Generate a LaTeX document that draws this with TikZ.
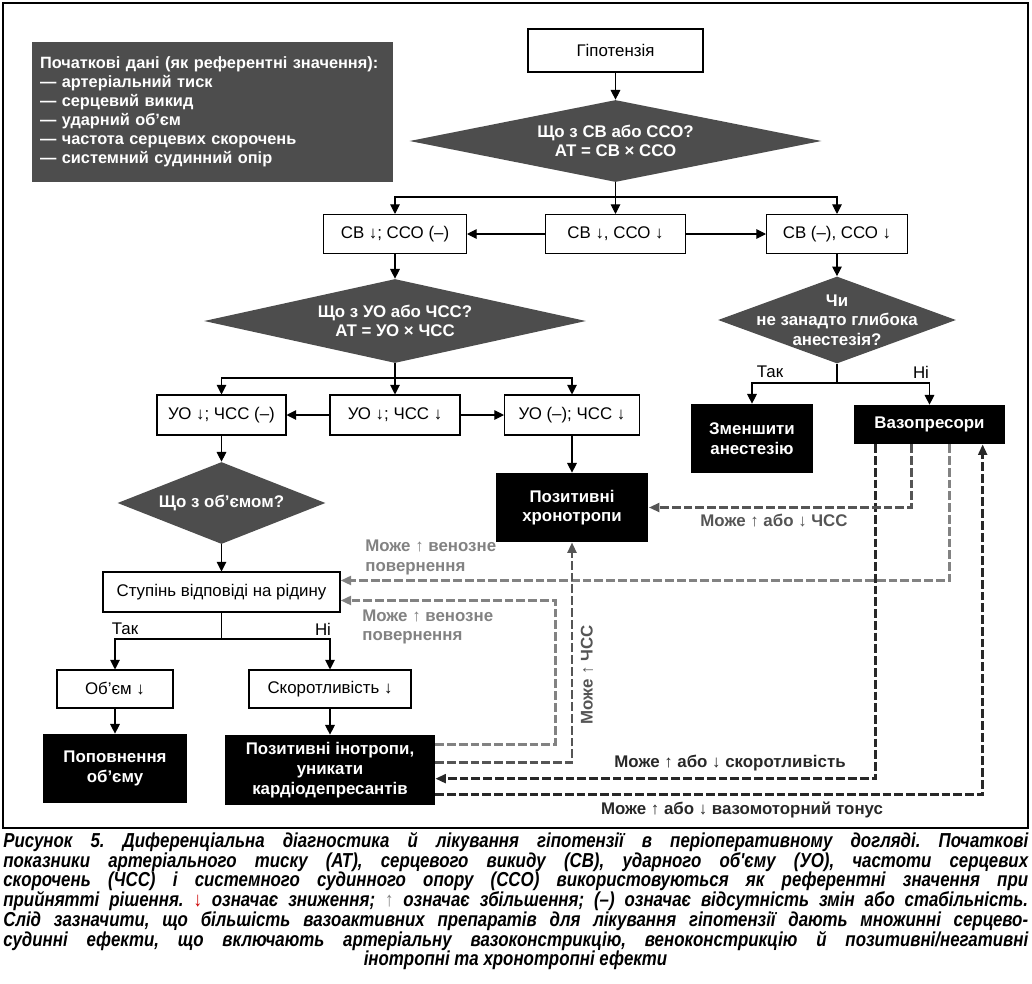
\documentclass[tikz,border=0pt]{standalone}
\usepackage{fontspec}
\setmainfont{Liberation Sans}
\newfontfamily\capfont[FakeStretch=0.835]{Liberation Sans}
\usetikzlibrary{shapes.geometric, arrows.meta, calc}
\definecolor{darkfill}{RGB}{77,77,77}
\definecolor{linedark}{RGB}{40,40,40}
\definecolor{linemid}{RGB}{85,85,85}
\definecolor{linelight}{RGB}{130,130,130}
\newcommand{\capline}[1]{\makebox[20.5cm][s]{#1}}
\tikzset{flowbox/.style={draw, line width=0.6pt, fill=white, inner sep=0pt, align=center, font=\fontsize{9.6}{11}\selectfont},
  actionbox/.style={fill=black, text=white, inner sep=0pt, align=center, font=\fontsize{9.6}{11.2}\selectfont\bfseries},
  decisionnode/.style={diamond, fill=darkfill, inner sep=0pt, aspect=1},
  decisiontext/.style={text=white, align=center, font=\fontsize{9.6}{11}\selectfont\bfseries},
  infobox/.style={fill=darkfill, text=white, align=left, text width=6.9cm, minimum height=2.8cm, inner xsep=0.16cm, inner ysep=0pt, font=\fontsize{9.3}{10.8}\selectfont\bfseries},
  flowarrow/.style={line width=0.6pt, -{Triangle[length=5.5pt,width=5.5pt]}},
  flowline/.style={line width=0.6pt},
  effectline/.style={line width=1.6pt, dash pattern=on 5pt off 1.7pt, -{Triangle[length=6pt,width=5pt]}},
  effectlabel/.style={font=\fontsize{9.6}{11}\selectfont\bfseries, inner sep=0pt, align=left},
  branchlabel/.style={font=\fontsize{9.6}{11}\selectfont, inner sep=0pt},
  captionline/.style={anchor=west, inner sep=0pt, text height=7.5pt, text depth=2pt, font=\capfont\bfseries\itshape\fontsize{11.5}{13}\selectfont\frenchspacing}}

\begin{document}
\begin{tikzpicture}[x=0.02cm, y=-0.02cm]

\useasboundingbox (0,0) rectangle (1032,984);
\draw [line width=0.8pt] (3,3) rectangle (1028,828);

% nodes

\node [style = infobox] (info) at (212.5,112) {Початкові дані (як референтні значення):\\— артеріальний тиск\\— серцевий викид\\— ударний об'єм\\— частота серцевих скорочень\\— системний судинний опір};

\node [style = flowbox, minimum width=3.5cm, minimum height=0.86cm] (hyp) at (615.5,50.5) {Гіпотензія};
\node [style = decisionnode, minimum width=8.24cm, minimum height=1.64cm, label={[decisiontext]center:{Що з СВ або ССО?\\АТ = СВ × ССО}}] (q1) at (615.5,141) {};
\coordinate (j1) at (615.5,197);

\node [style = flowbox, minimum width=2.86cm, minimum height=0.78cm] (r1l) at (395,234) {СВ ↓; ССО (–)};
\node [style = flowbox, minimum width=2.8cm, minimum height=0.78cm] (r1m) at (615.5,234) {СВ ↓, ССО ↓};
\node [style = flowbox, minimum width=2.82cm, minimum height=0.78cm] (r1r) at (837,234) {СВ (–), ССО ↓};

\node [style = decisionnode, minimum width=7.64cm, minimum height=1.68cm, label={[decisiontext]center:{Що з УО або ЧСС?\\АТ = УО × ЧСС}}] (q2) at (395,321) {};
\coordinate (j2) at (395,378);

\node [style = flowbox, minimum width=2.58cm, minimum height=0.8cm] (r2a) at (221.5,415) {УО ↓; ЧСС (–)};
\node [style = flowbox, minimum width=2.6cm, minimum height=0.8cm] (r2b) at (395,415) {УО ↓; ЧСС ↓};
\node [style = flowbox, minimum width=2.7cm, minimum height=0.8cm] (r2c) at (572,415) {УО (–); ЧСС ↓};

\node [style = decisionnode, minimum width=4.76cm, minimum height=1.74cm, label={[decisiontext]center:{Чи\\не занадто глибока\\анестезія?}}] (q3) at (837,320) {};
\coordinate (j3) at (837,383);
\node [style = actionbox, minimum width=2.44cm, minimum height=1.38cm] (anes) at (752,438.5) {Зменшити\\анестезію};
\node [style = actionbox, minimum width=3.02cm, minimum height=0.78cm] (vaso) at (929.5,424.5) {Вазопресори};
\node [style = branchlabel] (yes1) at (770,372) {Так};
\node [style = branchlabel] (no1) at (921,372) {Ні};

\node [style = actionbox, minimum width=3.06cm, minimum height=1.38cm] (chr) at (572,507.5) {Позитивні\\хронотропи};

\node [style = decisionnode, minimum width=4.16cm, minimum height=1.64cm, label={[decisiontext]center:{Що з об'ємом?}}] (q4) at (221.5,503) {};
\node [style = flowbox, minimum width=4.74cm, minimum height=0.8cm] (flu) at (221.5,592) {Ступінь відповіді на рідину};
\coordinate (j4) at (221.5,639);
\node [style = branchlabel] (yes2) at (125,629) {Так};
\node [style = branchlabel] (no2) at (323,629) {Ні};

\node [style = flowbox, minimum width=2.32cm, minimum height=0.76cm] (vol) at (115,689) {Об’єм ↓};
\node [style = flowbox, minimum width=3.24cm, minimum height=0.76cm] (con) at (330,689) {Скоротливість ↓};
\node [style = actionbox, minimum width=2.9cm, minimum height=1.38cm] (refill) at (115,768.5) {Поповнення\\об’єму};
\node [style = actionbox, minimum width=4.2cm, minimum height=1.4cm] (ino) at (330,770) {Позитивні інотропи,\\уникати\\кардіодепресантів};

% effect labels
\node [style = effectlabel, text=linelight, anchor=west] (ven1) at (365,557.5) {Може ↑ венозне\\повернення};
\node [style = effectlabel, text=linelight, anchor=west] (ven2) at (362,627) {Може ↑ венозне\\повернення};
\node [style = effectlabel, text=linemid] (hr1) at (774,521) {Може ↑ або ↓ ЧСС};
\node [style = effectlabel, text=linemid, rotate=90] (hr2) at (587,675) {Може ↑ ЧСС};
\node [style = effectlabel, text=linedark] (ctr) at (730,763) {Може ↑ або ↓ скоротливість};
\node [style = effectlabel, text=linedark] (tone) at (742,810) {Може ↑ або ↓ вазомоторний тонус};

%  edges
\draw [flowarrow] (hyp) to (q1);
\draw [flowline] (q1) to (j1);
\draw [flowarrow] (j1) -| (r1l);
\draw [flowarrow] (j1) to (r1m);
\draw [flowarrow] (j1) -| (r1r);
\draw [flowarrow] (r1m) to (r1l);
\draw [flowarrow] (r1m) to (r1r);

\draw [flowarrow] (r1l) to (q2);
\draw [flowline] (q2) to (j2);
\draw [flowarrow] (j2) -| (r2a);
\draw [flowarrow] (j2) to (r2b);
\draw [flowarrow] (j2) -| (r2c);
\draw [flowarrow] (r2b) to (r2a);
\draw [flowarrow] (r2b) to (r2c);

\draw [flowarrow] (r1r) to (q3);
\draw [flowline] (q3) to (j3);
\draw [flowarrow] (j3) -| (anes);
\draw [flowarrow] (j3) -| (vaso);

\draw [flowarrow] (r2c) to (chr);
\draw [flowarrow] (r2a) to (q4);
\draw [flowarrow] (q4) to (flu);
\draw [flowline] (flu) to (j4);
\draw [flowarrow] (j4) -| (vol);
\draw [flowarrow] (j4) -| (con);
\draw [flowarrow] (vol) to (refill);
\draw [flowarrow] (con) to (ino);

% dashed effects
\draw [effectline, linedark] ($(vaso.south west)+(22,0)$) |- ($(ino.north east)+(0,44)$);
\draw [effectline, linemid] ($(vaso.south west)+(58,0)$) |- (chr.east);
\draw [effectline, linelight] ($(vaso.south west)+(96,0)$) |- ($(flu.north east)+(0,9)$);
\draw [effectline, linedark] ($(ino.north east)+(0,60)$) -| ($(vaso.south west)+(129,0)$);
\draw [effectline, linelight] ($(ino.north east)+(0,10)$) -- ++(120,0) |- ($(flu.north east)+(0,29)$);
\draw [effectline, linemid] ($(ino.north east)+(0,28)$) -| (chr.south);

% caption
\node [style = captionline] (cap1) at (3,843) {\capline{Рисунок 5. Диференціальна діагностика й лікування гіпотензії в періоперативному догляді. Початкові}};
\node [style = captionline] (cap2) at (3,863) {\capline{показники артеріального тиску (АТ), серцевого викиду (СВ), ударного об'єму (УО), частоти серцевих}};
\node [style = captionline] (cap3) at (3,882) {\capline{скорочень (ЧСС) і системного судинного опору (ССО) використовуються як референтні значення при}};
\node [style = captionline] (cap4) at (3,902) {\capline{прийнятті рішення. {\color{red!80!black}↓} означає зниження; {\color{gray}↑} означає збільшення; (–) означає відсутність змін або стабільність.}};
\node [style = captionline] (cap5) at (3,922) {\capline{Слід зазначити, що більшість вазоактивних препаратів для лікування гіпотензії дають множинні серцево-}};
\node [style = captionline] (cap6) at (3,942) {\capline{судинні ефекти, що включають артеріальну вазоконстрикцію, веноконстрикцію й позитивні/негативні}};
\node [style = captionline, anchor=center] (cap7) at (515.5,961) {інотропні та хронотропні ефекти};

\end{tikzpicture}
\end{document}
